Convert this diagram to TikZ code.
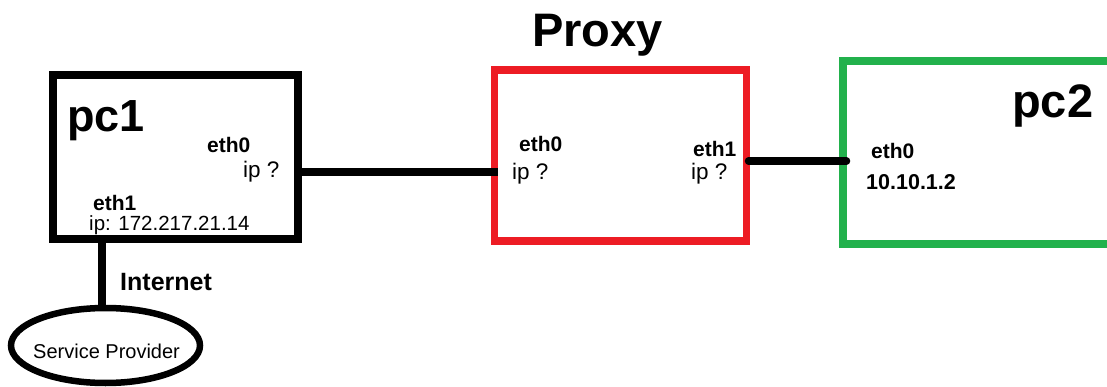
\documentclass[tikz,border=0pt]{standalone}
\usepackage{fontspec}
\setmainfont{Liberation Sans}
\usetikzlibrary{shapes.geometric}
\definecolor{pred}{HTML}{ED1C24}
\definecolor{pgreen}{HTML}{22B14C}
\newcommand{\fs}[1]{\fontsize{#1}{#1}\selectfont}
\tikzset{
  box/.style={draw, rectangle, inner sep=0pt, outer sep=0pt},
  conn/.style={draw=black, line width=7.5pt},
  lbl/.style={anchor=base west, inner sep=0pt, text=black},
  big/.style={lbl, font=\fs{47}\bfseries},
  eth/.style={lbl, font=\fs{21}\bfseries},
  ipt/.style={lbl, font=\fs{22.5}},
}
\begin{document}
\begin{tikzpicture}[x=1pt, y=-1pt]
\useasboundingbox (0,0) rectangle (1107,387);
% boxes
\node[box, line width=8pt, minimum width=245pt, minimum height=164pt] (pc1) at (175,157) {};
\node[box, draw=pred, line width=7.5pt, minimum width=252pt, minimum height=171pt] (proxy) at (620.5,155.5) {};
\node[box, draw=pgreen, line width=8pt, minimum width=290pt, minimum height=183pt] (pc2) at (987.5,152.5) {};
\node[draw, ellipse, line width=6.5pt, inner sep=0pt, outer sep=0pt, minimum width=189pt, minimum height=75pt] (sp) at (105.5,345.5) {};
% connectors
\coordinate (inet) at ([xshift=-3.5pt]sp.north);
\draw[conn] ([xshift=-73pt]pc1.south) -- (inet);
\draw[conn] ([yshift=-15pt]pc1.east) -- ([xshift=3.5pt,yshift=-16.5pt]proxy.west);
\draw[conn, line cap=round] ([xshift=2pt,yshift=-5.5pt]proxy.east) -- ([xshift=4pt,yshift=-8.5pt]pc2.west);
% titles
\node[big] (tproxy) at (532,47) {Proxy};
\node[big, font=\fs{45}\bfseries] (tpc1) at (67,132) {pc1};
\node[big] (tpc2) at (1012,118) {pc2};
% pc1 labels
\node[eth] (p1e0) at (207,153) {eth0};
\node[ipt] (p1ip0) at (243,178) {ip ?};
\node[eth] (p1e1) at (93,211) {eth1};
\node[ipt, font=\fs{20.5}] (p1ip1) at (89,230) {ip: 172.217.21.14};
\node[lbl, font=\fs{25}\bfseries] (tinet) at (120,290) {Internet};
\node[lbl, font=\fs{20}] (tsp) at (33,358) {Service Provider};
% proxy labels
\node[eth] (pxe0) at (519,152) {eth0};
\node[ipt] (pxip0) at (512,180) {ip ?};
\node[eth] (pxe1) at (693,157) {eth1};
\node[ipt] (pxip1) at (691,180) {ip ?};
% pc2 labels
\node[eth] (p2e0) at (871,159) {eth0};
\node[eth, font=\fs{21.5}\bfseries] (p2ip) at (866,190) {10.10.1.2};
\end{tikzpicture}
\end{document}
